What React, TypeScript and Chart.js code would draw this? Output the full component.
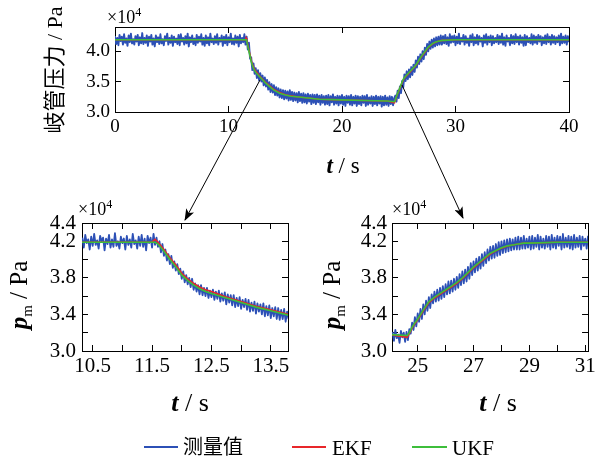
import React, { useEffect, useRef } from 'react';
import { Chart, registerables } from 'chart.js';

Chart.register(...registerables);

const W = 605;
const H = 461;
const FONT = "'Liberation Serif', 'Times New Roman', serif";
const CJK_FONT = "'Liberation Serif', 'Noto Sans CJK SC', serif";
const BLUE = '#2c50b6';
const RED = '#e8262a';
const GREEN = '#3dbe3b';

Chart.defaults.font.family = FONT;

// ---- measured pressure (×10^4 Pa), top panel: t = 0 … 40 s, every 0.1 s ----
const topStart = 0;
const topStep = 0.1;
const topMeasured = [
  4.25,4.12,4.22,4.10,4.27,4.17,4.24,4.11,4.28,4.14,
  4.21,4.09,4.26,4.15,4.29,4.13,4.20,4.11,4.25,4.16,
  4.27,4.10,4.23,4.13,4.30,4.12,4.22,4.14,4.26,4.09,
  4.24,4.16,4.27,4.11,4.21,4.08,4.26,4.15,4.23,4.12,
  4.28,4.13,4.20,4.10,4.25,4.17,4.29,4.11,4.22,4.14,
  4.26,4.09,4.24,4.15,4.21,4.12,4.27,4.10,4.28,4.16,
  4.22,4.11,4.25,4.13,4.29,4.08,4.23,4.15,4.26,4.12,
  4.21,4.10,4.27,4.14,4.24,4.16,4.28,4.11,4.22,4.09,
  4.26,4.13,4.23,4.10,4.29,4.15,4.21,4.12,4.25,4.14,
  4.28,4.11,4.22,4.16,4.26,4.09,4.24,4.13,4.27,4.10,
  4.23,4.15,4.29,4.12,4.21,4.11,4.26,4.14,4.24,4.08,
  4.27,4.13,4.22,4.15,4.28,4.11,
  4.24,4.03,4.14,3.88,3.90,3.69,3.80,3.63,3.72,3.56,
  3.69,3.52,3.64,3.50,3.60,3.44,3.57,3.42,3.53,3.37,
  3.49,3.33,3.46,3.32,3.44,3.28,3.41,3.27,3.39,3.24,
  3.37,3.23,3.36,3.21,3.35,3.22,3.34,3.19,3.36,3.20,
  3.33,3.18,3.32,3.19,3.31,3.16,3.33,3.18,3.30,3.15,
  3.31,3.16,3.29,3.14,3.30,3.17,3.28,3.13,3.29,3.15,
  3.28,3.13,3.29,3.16,3.27,3.12,3.28,3.15,3.26,3.12,
  3.27,3.13,3.28,3.11,3.26,3.16,3.29,3.12,3.25,3.14,
  3.27,3.11,3.26,3.14,3.28,3.12,3.25,3.10,3.27,3.15,
  3.26,3.12,3.28,3.11,3.25,3.14,3.27,3.10,3.26,3.13,
  3.25,3.11,3.27,3.15,3.26,3.10,3.28,3.12,3.24,3.14,
  3.26,3.10,3.25,3.13,3.27,3.11,3.25,3.14,3.26,3.09,
  3.25,3.11,3.27,3.12,3.24,3.10,3.26,3.13,3.25,3.11,
  3.23,
  3.27,3.17,3.35,3.23,3.42,3.31,3.51,3.41,3.62,3.51,
  3.67,3.54,3.70,3.57,3.74,3.61,3.78,3.66,3.85,3.73,
  3.91,3.79,3.95,3.83,4.00,3.87,4.06,3.94,4.12,4.00,
  4.16,4.04,4.19,4.06,4.21,4.08,4.23,4.10,4.24,4.11,
  4.26,4.11,4.25,4.13,4.27,4.12,4.23,4.09,4.28,4.14,
  4.25,4.15,4.26,4.10,4.24,4.13,4.29,4.12,4.22,4.16,
  4.27,4.11,4.25,4.14,4.21,4.09,4.26,4.15,4.28,4.10,
  4.23,4.13,4.27,4.11,4.25,4.16,4.22,4.08,4.26,4.14,
  4.28,4.11,4.24,4.15,4.26,4.10,4.25,4.13,4.22,4.15,
  4.27,4.12,4.25,4.14,4.29,4.11,4.23,4.09,4.26,4.16,
  4.22,4.10,4.27,4.13,4.25,4.12,4.28,4.15,4.24,4.11,
  4.26,4.14,4.23,4.09,4.27,4.10,4.25,4.15,4.22,4.13,
  4.28,4.11,4.26,4.14,4.24,4.12,4.27,4.16,4.25,4.10,
  4.23,4.13,4.26,4.12,4.28,4.15,4.24,4.11,4.27,4.14,
  4.25,4.12,4.23,4.15,4.26,4.10,4.29,4.13,4.24,4.14,
  4.26,4.11,4.25,4.15,
];

// ---- measured, left zoom: t = 10.325 … 13.8 s, every 0.025 s ----
const leftStart = 10.325;
const leftStep = 0.025;
const leftMeasured = [
  4.24,4.13,4.27,4.18,4.22,4.11,4.25,4.15,4.28,4.16,
  4.21,4.12,4.26,4.20,4.24,4.10,4.23,4.17,4.27,4.13,
  4.22,4.14,4.29,4.15,4.20,4.12,4.25,4.18,4.23,4.11,
  4.26,4.16,4.22,4.13,4.28,4.17,4.21,4.12,4.25,4.15,
  4.27,4.14,4.23,4.10,4.26,4.18,4.24,4.13,4.28,4.16,
  4.24,4.14,4.20,4.08,4.17,4.04,4.11,3.99,4.06,3.95,
  4.04,3.91,3.98,3.88,3.95,3.84,3.90,3.79,3.87,3.75,
  3.83,3.73,3.80,3.70,3.79,3.67,3.74,3.65,3.72,3.62,
  3.72,3.61,3.69,3.60,3.69,3.58,3.66,3.59,3.67,3.56,
  3.65,3.57,3.66,3.54,3.63,3.55,3.64,3.51,3.62,3.53,
  3.61,3.50,3.61,3.48,3.58,3.49,3.59,3.46,3.56,3.48,
  3.57,3.45,3.56,3.43,3.53,3.44,3.54,3.41,3.52,3.43,
  3.51,3.40,3.52,3.38,3.49,3.39,3.50,3.36,3.47,3.38,
  3.48,3.35,3.47,3.34,3.45,3.35,3.46,3.32,3.43,3.35,
];

// ---- measured, right zoom: t = 24.1 … 31.1 s, every 0.05 s ----
const rightStart = 24.1;
const rightStep = 0.05;
const rightMeasured = [
  3.21,3.11,3.23,3.14,3.18,3.09,3.22,3.15,3.20,3.10,
  3.21,3.12,3.24,3.19,3.31,3.23,3.37,3.27,3.41,3.32,
  3.46,3.35,3.51,3.40,3.55,3.44,3.59,3.47,3.62,3.52,
  3.65,3.54,3.67,3.55,3.69,3.57,3.71,3.59,3.73,3.62,
  3.76,3.63,3.77,3.65,3.79,3.67,3.81,3.69,3.84,3.72,
  3.87,3.74,3.89,3.76,3.92,3.79,3.96,3.83,3.98,3.86,
  4.01,3.88,4.03,3.90,4.06,3.93,4.08,3.96,4.11,3.99,
  4.14,4.01,4.15,4.02,4.17,4.04,4.19,4.05,4.20,4.07,
  4.21,4.08,4.22,4.09,4.23,4.10,4.22,4.11,4.24,4.11,
  4.25,4.11,4.24,4.12,4.26,4.12,4.23,4.13,4.25,4.11,
  4.26,4.12,4.24,4.14,4.27,4.11,4.25,4.13,4.23,4.12,
  4.26,4.14,4.25,4.11,4.27,4.13,4.24,4.12,4.26,4.15,
  4.25,4.11,4.28,4.13,4.24,4.14,4.26,4.12,4.25,4.11,
  4.27,4.13,4.24,4.14,4.26,4.11,4.25,4.15,4.23,4.12,4.26,
];

// ---- filter estimates (×10^4 Pa) ----
const filterT = [
  0, 5, 10, 11.5, 11.55, 11.6, 11.7, 11.8, 11.9, 12.0,
  12.1, 12.2, 12.3, 12.4, 12.5, 12.75, 13.0, 13.25, 13.5, 13.8,
  14.0, 14.5, 15.0, 15.5, 16.0, 17, 18, 20, 22, 24,
  24.62, 24.7, 24.8, 24.9, 25.0, 25.2, 25.4, 25.6, 25.8, 26.0,
  26.2, 26.4, 26.6, 26.8, 27.0, 27.2, 27.4, 27.6, 27.8, 28.0,
  28.2, 28.4, 28.6, 28.8, 29.0, 30, 32, 35, 38, 40,
];
const ekfValues = [
  4.19, 4.19, 4.19, 4.19, 4.22, 4.19, 4.11, 4.02, 3.94, 3.85,
  3.79, 3.74, 3.70, 3.67, 3.65, 3.59, 3.54, 3.49, 3.45, 3.40,
  3.37, 3.32, 3.285, 3.265, 3.25, 3.23, 3.21, 3.20, 3.19, 3.18,
  3.15, 3.19, 3.25, 3.30, 3.34, 3.44, 3.53, 3.58, 3.62, 3.66,
  3.70, 3.74, 3.79, 3.85, 3.91, 3.96, 4.01, 4.06, 4.095, 4.125,
  4.145, 4.16, 4.17, 4.18, 4.18, 4.19, 4.19, 4.19, 4.19, 4.19,
];
const ukfValues = [
  4.19, 4.19, 4.19, 4.19, 4.19, 4.17, 4.09, 4.00, 3.92, 3.83,
  3.77, 3.72, 3.68, 3.65, 3.63, 3.58, 3.53, 3.48, 3.44, 3.39,
  3.36, 3.31, 3.28, 3.26, 3.25, 3.23, 3.21, 3.20, 3.19, 3.18,
  3.17, 3.20, 3.26, 3.31, 3.35, 3.45, 3.54, 3.59, 3.63, 3.67,
  3.71, 3.75, 3.80, 3.86, 3.92, 3.97, 4.02, 4.07, 4.10, 4.13,
  4.15, 4.16, 4.17, 4.18, 4.18, 4.19, 4.19, 4.19, 4.19, 4.19,
];

// ---- ticks ----
const topXTicks = [0, 10, 20, 30, 40];
const topXLabels = [0, 10, 20, 30, 40];
const topYTicks = [3.0, 3.5, 4.0];
const topYLabels = [3.0, 3.5, 4.0];
const zoomYTicks = [3.0, 3.2, 3.4, 3.6, 3.8, 4.0, 4.2, 4.4];
const zoomYLabels = [3.0, 3.4, 3.8, 4.2, 4.4];
const leftXTicks = [10.5, 11, 11.5, 12, 12.5, 13, 13.5];
const leftXLabels = [10.5, 11.5, 12.5, 13.5];
const rightXTicks = [25, 26, 27, 28, 29, 30, 31];
const rightXLabels = [25, 27, 29, 31];

type Area = { left: number; top: number; right: number; bottom: number };

const toPoints = (start: number, step: number, vals: number[]) =>
  vals.map((v, i) => ({ x: +(start + i * step).toFixed(4), y: v }));
const filterPoints = (vals: number[]) => filterT.map((t, i) => ({ x: t, y: vals[i] }));

const has = (list: number[], v: number) => list.some((l) => Math.abs(l - v) < 1e-6);

function makeConfig(p: {
  area: Area;
  xMin: number; xMax: number; yMin: number; yMax: number;
  xTicks: number[]; xLabels: number[]; xDigits: number;
  yTicks: number[]; yLabels: number[];
  measured: { x: number; y: number }[];
  measuredWidth: number;
  fontSize: number; xPad: number; yPad: number; tickLen: number;
}): any {
  const { area } = p;
  const grid = { drawOnChartArea: false, drawTicks: true, tickLength: -p.tickLen, color: '#000', lineWidth: 1 };
  const border = { display: true, color: '#000', width: 1 };
  const font = { family: FONT, size: p.fontSize };
  const setX = (s: any) => { s.ticks = p.xTicks.map((v) => ({ value: v })); };
  const setY = (s: any) => { s.ticks = p.yTicks.map((v) => ({ value: v })); };
  return {
    type: 'line',
    data: {
      datasets: [
        { label: '测量值', data: p.measured, borderColor: BLUE, borderWidth: p.measuredWidth, pointRadius: 0, order: 3, clip: 0, borderJoinStyle: 'round', tension: 0 },
        { label: 'EKF', data: filterPoints(ekfValues), borderColor: RED, borderWidth: 1.6, pointRadius: 0, order: 2, clip: 0, tension: 0 },
        { label: 'UKF', data: filterPoints(ukfValues), borderColor: GREEN, borderWidth: 1.6, pointRadius: 0, order: 1, clip: 0, tension: 0 },
      ],
    },
    options: {
      responsive: false,
      animation: false,
      events: [],
      parsing: false,
      normalized: true,
      layout: { padding: { left: 0, top: area.top, right: W - area.right, bottom: 0 } },
      plugins: { legend: { display: false }, tooltip: { enabled: false }, title: { display: false } },
      scales: {
        x: {
          type: 'linear', position: 'bottom', min: p.xMin, max: p.xMax,
          afterBuildTicks: setX,
          afterFit: (s: any) => { s.height = H - area.bottom; },
          ticks: {
            autoSkip: false, maxRotation: 0, padding: p.xPad, color: '#000', font,
            callback: (v: number) => (has(p.xLabels, v) ? v.toFixed(p.xDigits) : ''),
          },
          grid, border,
        },
        x2: {
          type: 'linear', position: 'top', min: p.xMin, max: p.xMax,
          afterBuildTicks: setX,
          afterFit: (s: any) => { s.height = 0; },
          ticks: { display: false, autoSkip: false },
          grid, border,
        },
        y: {
          type: 'linear', position: 'left', min: p.yMin, max: p.yMax,
          afterBuildTicks: setY,
          afterFit: (s: any) => { s.width = area.left; },
          ticks: {
            autoSkip: false, padding: p.yPad, color: '#000', font,
            callback: (v: number) => (has(p.yLabels, v) ? v.toFixed(1) : ''),
          },
          grid, border,
        },
        y2: {
          type: 'linear', position: 'right', min: p.yMin, max: p.yMax,
          afterBuildTicks: setY,
          afterFit: (s: any) => { s.width = 0; },
          ticks: { display: false, autoSkip: false },
          grid, border,
        },
      },
    },
  };
}

function Panel({ config }: { config: any }) {
  const ref = useRef<HTMLCanvasElement | null>(null);
  useEffect(() => {
    if (!ref.current) return;
    const chart = new Chart(ref.current, config);
    return () => chart.destroy();
  }, [config]);
  return (
    <canvas
      ref={ref}
      width={W}
      height={H}
      style={{ position: 'absolute', left: 0, top: 0, width: W, height: H }}
    />
  );
}

const topConfig = makeConfig({
  area: { left: 115, top: 27, right: 569, bottom: 112 },
  xMin: 0, xMax: 40, yMin: 3.0, yMax: 4.4,
  xTicks: topXTicks, xLabels: topXLabels, xDigits: 0,
  yTicks: topYTicks, yLabels: topYLabels,
  measured: toPoints(topStart, topStep, topMeasured), measuredWidth: 1.9,
  fontSize: 19, xPad: 10, yPad: 11, tickLen: 6,
});

const leftConfig = makeConfig({
  area: { left: 82, top: 223, right: 288, bottom: 351 },
  xMin: 10.32, xMax: 13.79, yMin: 3.0, yMax: 4.4,
  xTicks: leftXTicks, xLabels: leftXLabels, xDigits: 1,
  yTicks: zoomYTicks, yLabels: zoomYLabels,
  measured: toPoints(leftStart, leftStep, leftMeasured), measuredWidth: 1.8,
  fontSize: 21, xPad: 9, yPad: 12, tickLen: 6,
});

const rightConfig = makeConfig({
  area: { left: 392, top: 223, right: 598, bottom: 351 },
  xMin: 24.08, xMax: 31.1, yMin: 3.0, yMax: 4.4,
  xTicks: rightXTicks, xLabels: rightXLabels, xDigits: 0,
  yTicks: zoomYTicks, yLabels: zoomYLabels,
  measured: toPoints(rightStart, rightStep, rightMeasured), measuredWidth: 1.8,
  fontSize: 21, xPad: 9, yPad: 11, tickLen: 6,
});

function Overlay() {
  const txt = { fontFamily: FONT, fill: '#000' } as const;
  return (
    <svg width={W} height={H} style={{ position: 'absolute', left: 0, top: 0, pointerEvents: 'none' }}>
      <defs>
        <marker id="ah" markerWidth="12" markerHeight="9" refX="11" refY="4.5" orient="auto" markerUnits="userSpaceOnUse">
          <path d="M0,0 L12,4.5 L0,9 L3,4.5 z" fill="#000" />
        </marker>
      </defs>
      {/* magnification arrows */}
      <line x1={260} y1={80} x2={185} y2={220} stroke="#000" strokeWidth={1} markerEnd="url(#ah)" />
      <line x1={402} y1={85} x2={463} y2={218} stroke="#000" strokeWidth={1} markerEnd="url(#ah)" />

      {/* ×10^4 multipliers */}
      <text x={107} y={23} fontSize={18} {...txt}>×10<tspan fontSize={12} dy={-7}>4</tspan></text>
      <text x={78} y={215} fontSize={18} {...txt}>×10<tspan fontSize={12} dy={-7}>4</tspan></text>
      <text x={392} y={215} fontSize={18} {...txt}>×10<tspan fontSize={12} dy={-7}>4</tspan></text>

      {/* axis titles */}
      <text transform="translate(62,70) rotate(-90)" textAnchor="middle" fontSize={22} fontFamily={CJK_FONT} fill="#000">岐管压力 / Pa</text>
      <text x={343} y={173} textAnchor="middle" fontSize={23} {...txt}>
        <tspan fontStyle="italic" fontWeight="bold">t</tspan> / s
      </text>
      <text x={190} y={411} textAnchor="middle" fontSize={26} {...txt}>
        <tspan fontStyle="italic" fontWeight="bold">t</tspan> / s
      </text>
      <text x={498} y={411} textAnchor="middle" fontSize={26} {...txt}>
        <tspan fontStyle="italic" fontWeight="bold">t</tspan> / s
      </text>
      <text transform="translate(27,295) rotate(-90)" textAnchor="middle" fontSize={25} {...txt}>
        <tspan fontStyle="italic" fontWeight="bold">p</tspan><tspan fontSize={15} dy={5}>m</tspan><tspan dy={-5}> / Pa</tspan>
      </text>
      <text transform="translate(340,295) rotate(-90)" textAnchor="middle" fontSize={25} {...txt}>
        <tspan fontStyle="italic" fontWeight="bold">p</tspan><tspan fontSize={15} dy={5}>m</tspan><tspan dy={-5}> / Pa</tspan>
      </text>

      {/* legend */}
      <line x1={144} y1={447} x2={178} y2={447} stroke={BLUE} strokeWidth={2} />
      <text x={183} y={454} fontSize={20} fontFamily={CJK_FONT} fill="#000">测量值</text>
      <line x1={292} y1={447} x2={326} y2={447} stroke={RED} strokeWidth={2} />
      <text x={332} y={455} fontSize={21} {...txt}>EKF</text>
      <line x1={412} y1={447} x2={447} y2={447} stroke={GREEN} strokeWidth={2} />
      <text x={452} y={455} fontSize={21} {...txt}>UKF</text>
    </svg>
  );
}

export default function App() {
  return (
    <div style={{ position: 'fixed', left: 0, top: 0, width: W, height: H, background: '#fff', overflow: 'hidden' }}>
      <Panel config={topConfig} />
      <Panel config={leftConfig} />
      <Panel config={rightConfig} />
      <Overlay />
    </div>
  );
}
